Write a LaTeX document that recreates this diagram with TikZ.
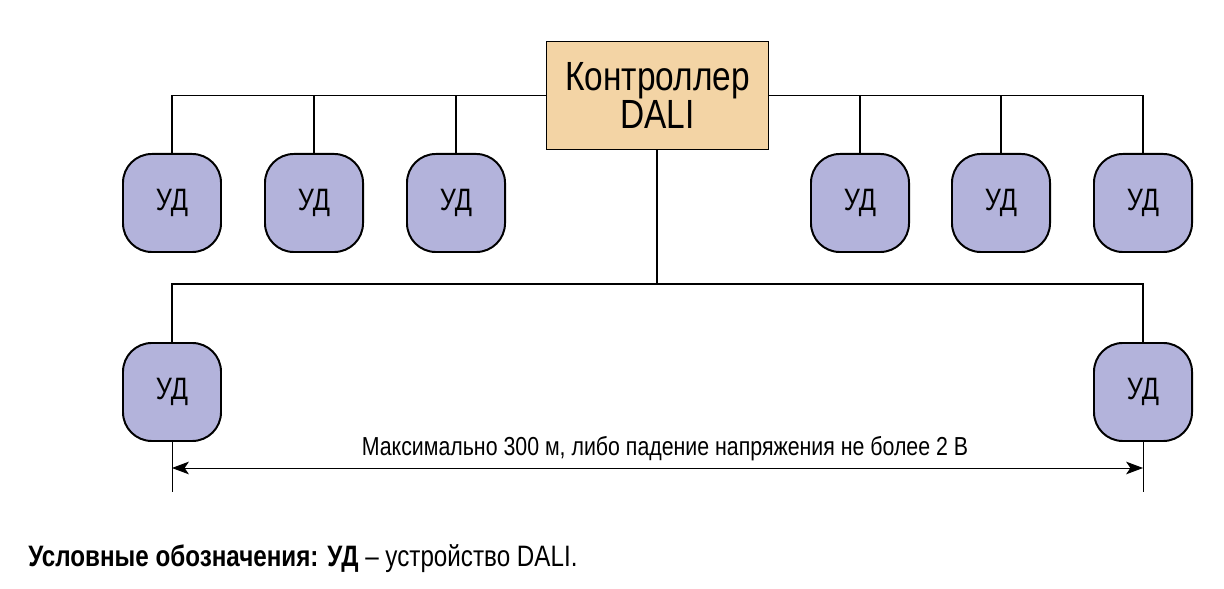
\documentclass[tikz,border=0pt]{standalone}
\usepackage{fontspec}
\setmainfont[FakeStretch=0.82]{Liberation Sans}
\usetikzlibrary{arrows.meta}
\definecolor{devicefill}{HTML}{B3B3DB}
\definecolor{controllerfill}{HTML}{F3D4A5}

\begin{document}
\begin{tikzpicture}[x=0.025cm, y=-0.025cm]
            \tikzset{device/.style={draw, line width=1.4pt, fill=devicefill, rounded corners=0.72cm,
                minimum width=2.45cm, minimum height=2.45cm, inner sep=0pt, font={\fontsize{22}{26}\selectfont}}};
            \tikzset{controller/.style={draw, line width=1.2pt, fill=controllerfill, minimum width=5.55cm,
                minimum height=2.7cm, align=center, font={\fontsize{29}{25}\selectfont}}};
            \tikzset{bus/.style={line width=1.4pt}};
            \tikzset{dimension/.style={line width=0.7pt}};
            \useasboundingbox (0, 0) rectangle (1224, 589);
            % Controller
            \node[controller] (ctrl) at (657.5, 95.5) {Контроллер\\DALI};
            % Upper devices
            \node[device] (ul1) at (172, 203) {УД};
            \node[device] (ul2) at (314, 203) {УД};
            \node[device] (ul3) at (456, 203) {УД};
            \node[device] (ur1) at (860, 203) {УД};
            \node[device] (ur2) at (1001, 203) {УД};
            \node[device] (ur3) at (1143, 203) {УД};
            % Lower devices
            \node[device] (bl) at (172, 392) {УД};
            \node[device] (br) at (1143, 392) {УД};
            % Upper bus
            \draw[bus] (ctrl.west) -| (ul1.north);
            \draw[bus] (ul2.north) -- (ul2.north |- ctrl.west);
            \draw[bus] (ul3.north) -- (ul3.north |- ctrl.west);
            \draw[bus] (ctrl.east) -| (ur3.north);
            \draw[bus] (ur1.north) -- (ur1.north |- ctrl.east);
            \draw[bus] (ur2.north) -- (ur2.north |- ctrl.east);
            % Lower bus
            \coordinate (join) at (657, 284);
            \draw[bus] (ctrl.south -| join) -- (join);
            \draw[bus] (bl.north) |- (join) -| (br.north);
            % Length
            \coordinate (lend) at (172, 492);
            \coordinate (rend) at (1143, 492);
            \draw[dimension] (bl.south) -- (lend);
            \draw[dimension] (br.south) -- (rend);
            \draw[dimension, {Stealth[length=12pt, width=9pt, inset=3pt]}-{Stealth[length=12pt, width=9pt, inset=3pt]}]
                (bl.south |- 0, 468) -- (br.south |- 0, 468);
            \node[font={\fontsize{18.5}{22}\selectfont}] (len) at (665, 449)
                {Максимально 300 м, либо падение напряжения не более 2 В};
            % Legend
            \node[anchor=base west, inner sep=0pt, font={\fontsize{21}{25}\selectfont}] (legend) at (28, 566)
                {\textbf{Условные обозначения: УД} – устройство DALI.};
\end{tikzpicture}
\end{document}
